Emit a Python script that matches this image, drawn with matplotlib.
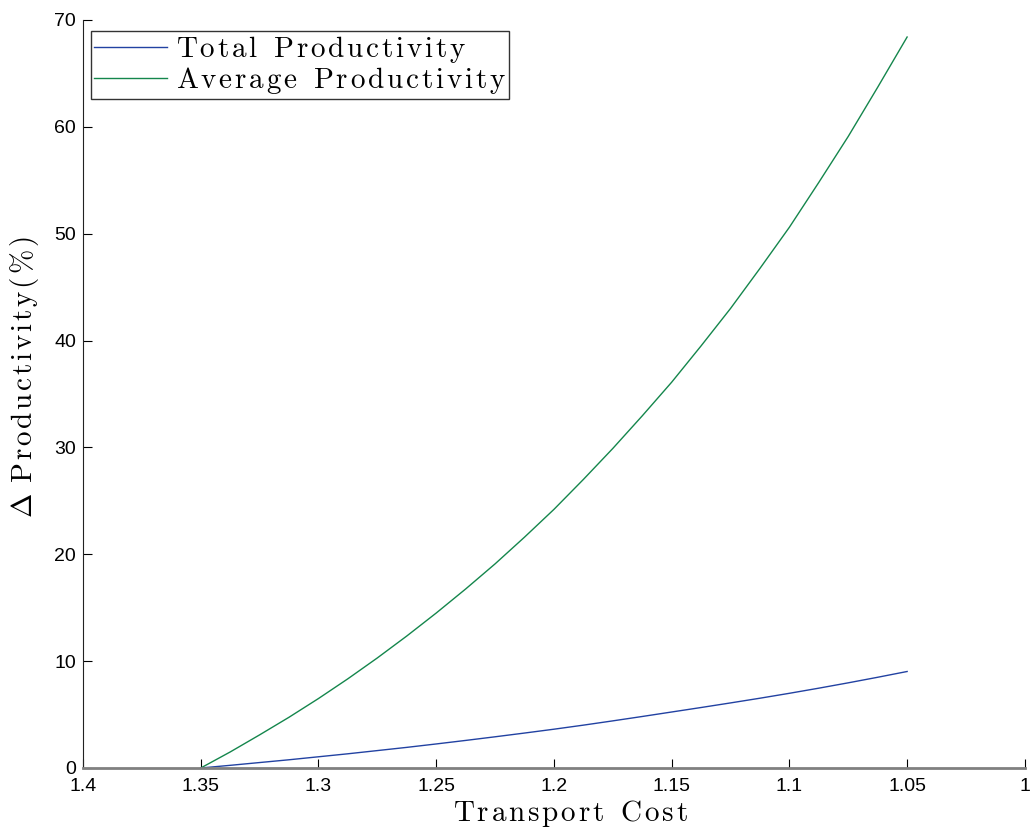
import matplotlib
matplotlib.use("Agg")
import matplotlib.pyplot as plt

plt.rcParams['mathtext.fontset'] = 'cm'

transport_cost = [1.35, 1.3375, 1.325, 1.3125, 1.30, 1.2875, 1.275, 1.2625, 1.25,
                  1.2375, 1.225, 1.2125, 1.20, 1.1875, 1.175, 1.1625, 1.15, 1.1375,
                  1.125, 1.1125, 1.10, 1.0875, 1.075, 1.0625, 1.05]
total_prod = [0.0, 0.25, 0.51, 0.77, 1.05, 1.33, 1.63, 1.93, 2.25, 2.58, 2.92, 3.27,
              3.63, 4.01, 4.41, 4.82, 5.24, 5.66, 6.09, 6.53, 6.99, 7.47, 7.97, 8.49, 9.03]
avg_prod = [0.0, 1.5, 3.1, 4.75, 6.5, 8.35, 10.3, 12.35, 14.5, 16.75, 19.1, 21.6,
            24.2, 27.0, 29.9, 32.95, 36.1, 39.5, 43.0, 46.75, 50.6, 54.8, 59.1, 63.7, 68.4]

xticks = [1.4, 1.35, 1.3, 1.25, 1.2, 1.15, 1.1, 1.05, 1.0]
xticklabels = ['1.4', '1.35', '1.3', '1.25', '1.2', '1.15', '1.1', '1.05', '1']
yticks = [0, 10, 20, 30, 40, 50, 60, 70]


def spaced(text, gap=0.11):
    """Build a mathtext roman string with MATLAB-like letter spacing."""
    parts = []
    for ch in text:
        if ch == ' ':
            parts.append(r'\ \hspace{0.1}')
        elif ch == '%':
            parts.append(r'\%')
        else:
            parts.append(ch)
    sep = r'\hspace{%g}' % gap
    return sep.join(parts)


fig = plt.figure(figsize=(10.3, 8.3), dpi=100)
ax = fig.add_axes([0.0806, 0.0747, 0.9144, 0.9013])

ax.plot(transport_cost, total_prod, color='#2242a2', lw=1.0,
        label='$\\mathrm{' + spaced('Total Productivity') + '}$')
ax.plot(transport_cost, avg_prod, color='#14864c', lw=1.0,
        label='$\\mathrm{' + spaced('Average Productivity') + '}$')

ax.set_xlim(1.4, 1.0)
ax.set_ylim(0, 70)
ax.set_xticks(xticks)
ax.set_xticklabels(xticklabels)
ax.set_yticks(yticks)

for lab in ax.get_xticklabels() + ax.get_yticklabels():
    lab.set_fontfamily('Liberation Sans')
    lab.set_fontsize(14)

ax.tick_params(direction='in', length=6.5, width=0.8, colors='black')
ax.tick_params(axis='x', pad=7)
ax.tick_params(axis='y', pad=5)
ax.spines['top'].set_visible(False)
ax.spines['right'].set_visible(False)
ax.spines['left'].set_color('#222222')
ax.spines['left'].set_linewidth(0.8)
ax.spines['bottom'].set_color('#808080')
ax.spines['bottom'].set_linewidth(2.0)

ax.set_xlabel('$\\mathrm{' + spaced('Transport Cost') + '}$', fontsize=21)
ax.xaxis.set_label_coords(0.518, -0.040)
ax.set_ylabel('$\\Delta\\ \\hspace{0.1}\\mathrm{' + spaced('Productivity(%)') + '}$', fontsize=21)
ax.yaxis.set_label_coords(-0.045, 0.522)

leg = ax.legend(loc='upper left', bbox_to_anchor=(0.0085, 0.985), fontsize=21,
                frameon=True, fancybox=False, edgecolor='black', borderpad=0.1,
                handlelength=2.5, handletextpad=0.3, labelspacing=0.0, borderaxespad=0.0)
leg.get_frame().set_linewidth(1.0)

fig.savefig('out.png', dpi=100)
